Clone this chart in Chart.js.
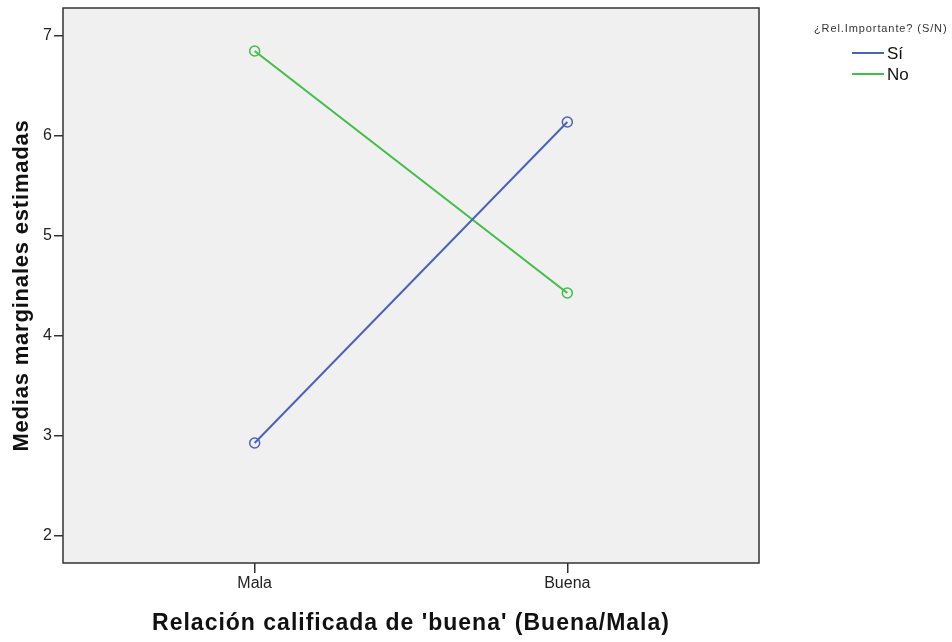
<!DOCTYPE html>
<html>
<head>
<meta charset="utf-8">
<script src="https://cdn.jsdelivr.net/npm/chart.js@4.4.0/dist/chart.umd.min.js"></script>
<style>
  html, body { margin: 0; padding: 0; background: #fff; }
  #wrap { width: 952px; height: 642px; }
</style>
</head>
<body>
<div id="wrap"><canvas id="chart"></canvas></div>
<script>
const categories = ['Mala', 'Buena'];
const siValues = [2.93, 6.14];
const noValues = [6.85, 4.43];
const yTicks = [2, 3, 4, 5, 6, 7];
const legendTitle = '¿Rel.Importante? (S/N)';
const seriesNames = ['Sí', 'No'];
const seriesColors = ['#4a63ba', '#3fbf45'];
const xTitle = "Relación calificada de 'buena' (Buena/Mala)";
const yTitle = 'Medias marginales estimadas';

const FONT = "'Liberation Sans', Arial, sans-serif";

function toPoints(values) {
  return values.map((v, i) => ({ x: i, y: v }));
}

// plot background + frame, axis titles and legend drawn by hand
const plotFrame = {
  id: 'plotFrame',
  beforeDatasetsDraw(chart) {
    const { ctx, chartArea: a } = chart;
    ctx.save();
    ctx.fillStyle = '#f0f0f0';
    ctx.fillRect(a.left, a.top, a.right - a.left, a.bottom - a.top);
    ctx.strokeStyle = '#333';
    ctx.lineWidth = 1.5;
    ctx.strokeRect(a.left, a.top, a.right - a.left, a.bottom - a.top);
    ctx.restore();
  },
  afterDraw(chart) {
    const { ctx, chartArea: a } = chart;
    ctx.save();
    ctx.fillStyle = '#111';
    ctx.textAlign = 'center';
    ctx.textBaseline = 'middle';
    ctx.font = 'bold 23px ' + FONT;
    ctx.letterSpacing = '1px';
    ctx.fillText(xTitle, (a.left + a.right) / 2, 624);
    ctx.font = 'bold 22px ' + FONT;
    ctx.letterSpacing = '0.8px';
    ctx.translate(22, (a.top + a.bottom) / 2);
    ctx.rotate(-Math.PI / 2);
    ctx.fillText(yTitle, 0, 0);
    ctx.restore();

    ctx.save();
    ctx.fillStyle = '#333';
    ctx.font = '11px ' + FONT;
    ctx.letterSpacing = '0.9px';
    ctx.textBaseline = 'middle';
    ctx.textAlign = 'left';
    ctx.fillText(legendTitle, 814, 29);
    ctx.letterSpacing = '0px';
    ctx.font = '17px ' + FONT;
    seriesNames.forEach((name, i) => {
      const y = 53 + i * 21;
      ctx.strokeStyle = seriesColors[i];
      ctx.lineWidth = 2;
      ctx.beginPath();
      ctx.moveTo(852, y);
      ctx.lineTo(884, y);
      ctx.stroke();
      ctx.fillStyle = '#111';
      ctx.fillText(name, 887, y + 1);
    });
    ctx.restore();
  }
};

new Chart(document.getElementById('chart'), {
  type: 'line',
  data: {
    datasets: [
      {
        label: seriesNames[0],
        data: toPoints(siValues),
        borderColor: seriesColors[0],
        backgroundColor: 'rgba(0,0,0,0)',
        borderWidth: 2,
        pointRadius: 5,
        pointBorderWidth: 1.5,
        pointBackgroundColor: 'rgba(0,0,0,0)',
        pointBorderColor: seriesColors[0]
      },
      {
        label: seriesNames[1],
        data: toPoints(noValues),
        borderColor: seriesColors[1],
        backgroundColor: 'rgba(0,0,0,0)',
        borderWidth: 2,
        pointRadius: 5,
        pointBorderWidth: 1.5,
        pointBackgroundColor: 'rgba(0,0,0,0)',
        pointBorderColor: seriesColors[1]
      }
    ]
  },
  options: {
    responsive: true,
    maintainAspectRatio: false,
    animation: false,
    layout: { padding: { top: 8, right: 193, left: 0, bottom: 0 } },
    plugins: {
      legend: { display: false },
      tooltip: { enabled: false }
    },
    scales: {
      x: {
        type: 'linear',
        min: -0.613,
        max: 1.613,
        afterBuildTicks(scale) {
          scale.ticks = categories.map((c, i) => ({ value: i }));
        },
        afterFit(scale) {
          scale.height = 79;
          scale.paddingLeft = 0;
          scale.paddingRight = 0;
        },
        border: { display: false },
        grid: { drawOnChartArea: false, tickLength: 10, color: '#333', lineWidth: 1.5 },
        ticks: {
          color: '#222',
          font: { family: FONT, size: 16 },
          padding: 1,
          maxRotation: 0,
          callback: v => categories[v]
        }
      },
      y: {
        min: 1.73,
        max: 7.28,
        afterBuildTicks(scale) {
          scale.ticks = yTicks.map(v => ({ value: v }));
        },
        afterFit(scale) {
          scale.width = 63;
          scale.paddingTop = 0;
          scale.paddingBottom = 0;
        },
        border: { display: false },
        grid: { drawOnChartArea: false, tickLength: 9, color: '#333', lineWidth: 1.5 },
        ticks: {
          color: '#222',
          font: { family: FONT, size: 16 },
          padding: 2
        }
      }
    }
  },
  plugins: [plotFrame]
});
</script>
</body>
</html>
